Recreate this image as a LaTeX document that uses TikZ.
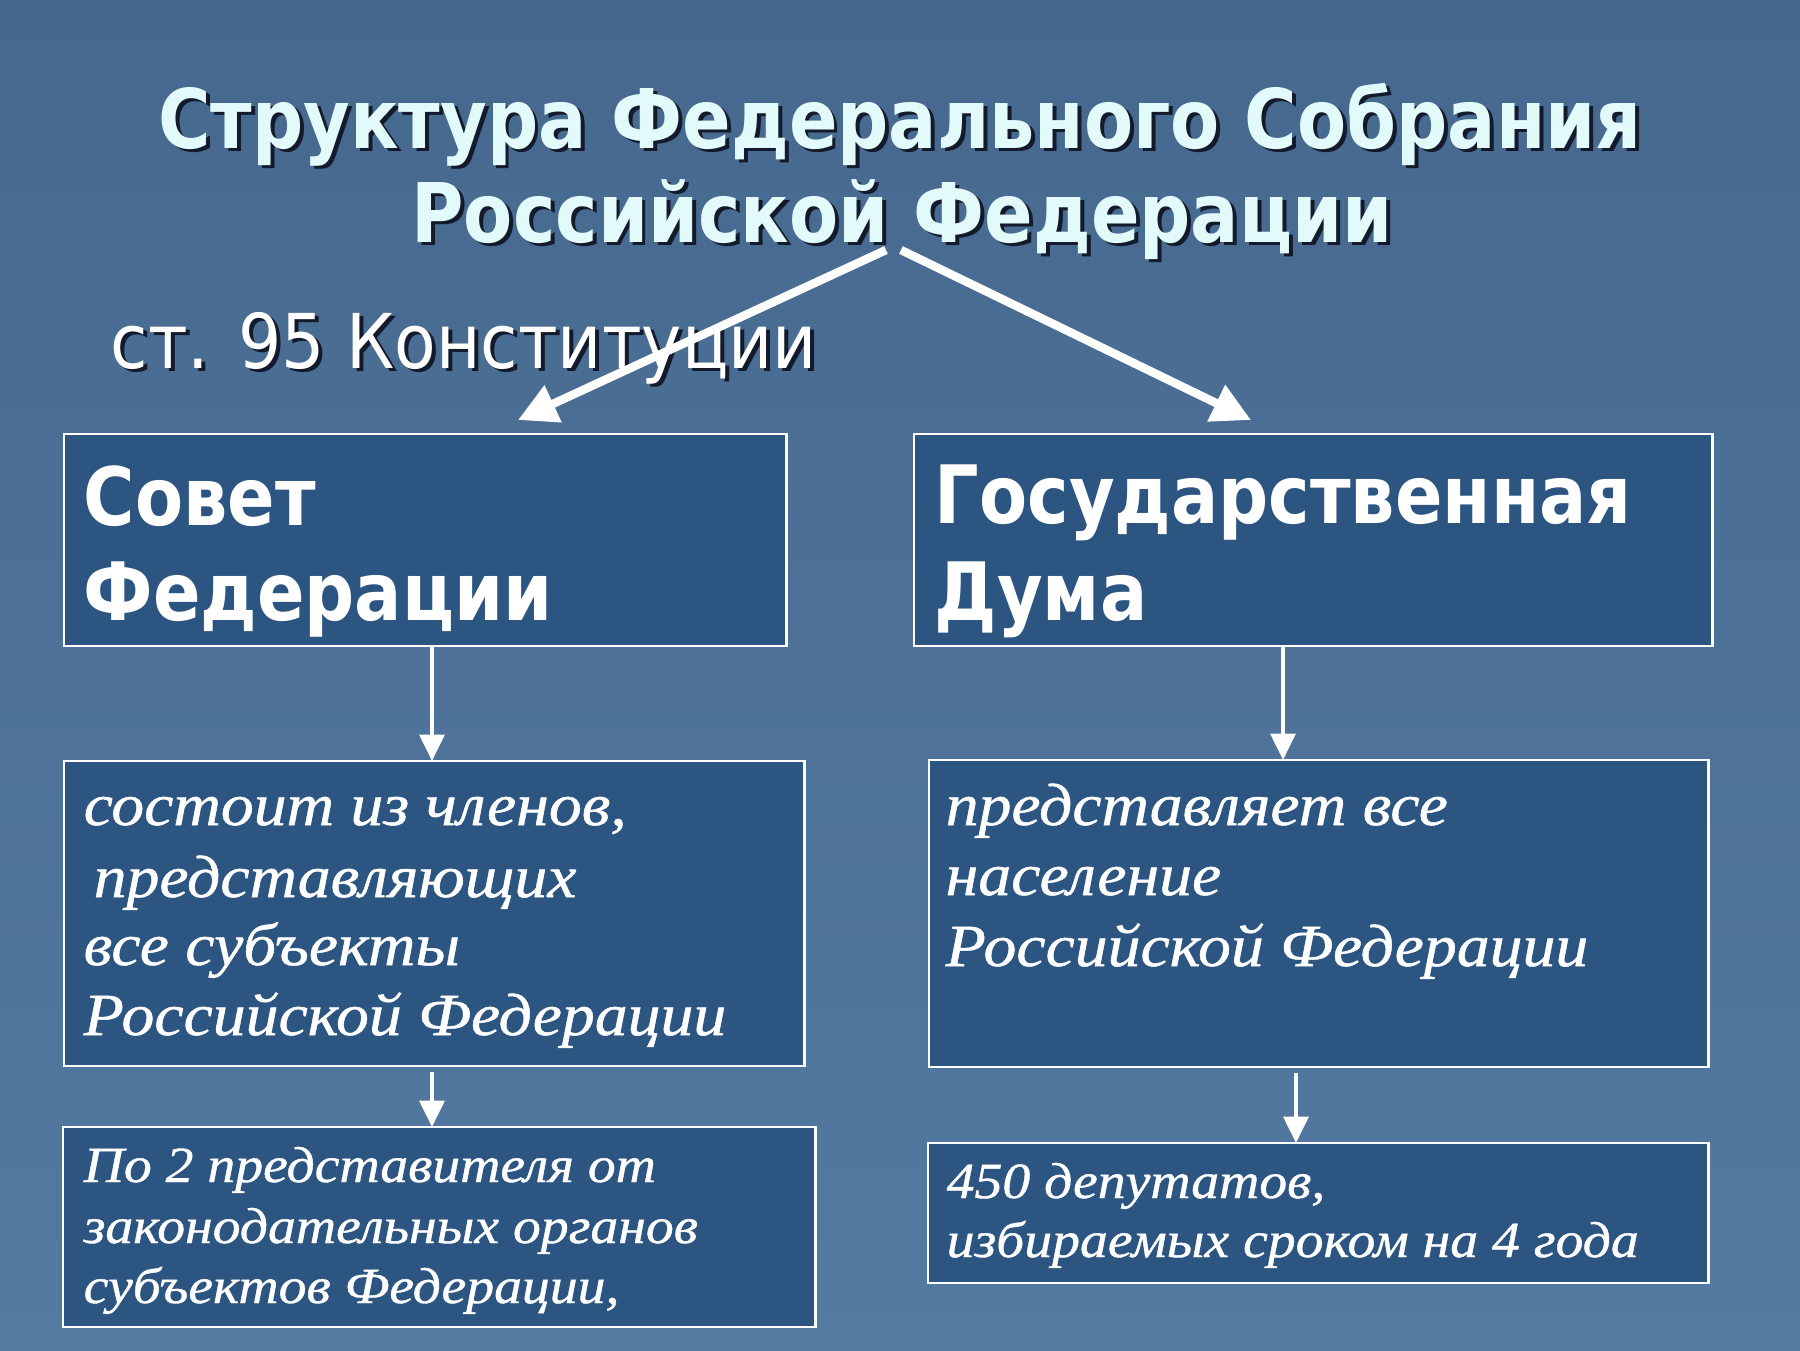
\documentclass[tikz,border=0pt]{standalone}
\usepackage{fontspec}
\usetikzlibrary{arrows.meta}
\setmainfont{Liberation Serif}
\newfontfamily\ttlfont[FakeStretch=0.87]{DejaVu Sans}
\newfontfamily\notefont[FakeStretch=0.9]{DejaVu Sans}
\newfontfamily\bodyit[FakeStretch=1.1,FakeBold=0.8]{Liberation Serif Italic}
\definecolor{bgA}{RGB}{70,104,142}
\definecolor{bgB}{RGB}{84,122,162}
\definecolor{boxfill}{RGB}{44,86,129}
\definecolor{ttlcol}{RGB}{226,250,250}
\definecolor{shd}{RGB}{18,26,44}
\newcommand\shadowed[1]{\makebox[0pt][l]{\hspace{1.1pt}\raisebox{-1.1pt}{\textcolor{shd}{#1}}}#1}
\begin{document}
\begin{tikzpicture}[x=0.01cm,y=-0.01cm,
  box/.style={draw=white, line width=0.7pt, fill=boxfill, inner sep=0pt, outer sep=0pt, anchor=north west},
  ttl/.style={anchor=base, inner sep=0pt, text=ttlcol, font=\ttlfont\bfseries\fontsize{23.4pt}{28pt}\selectfont},
  note/.style={anchor=base west, inner sep=0pt, text=white, font=\notefont\fontsize{21.5pt}{25pt}\selectfont},
  head/.style={anchor=base west, inner sep=0pt, text=white, font=\ttlfont\bfseries\fontsize{22.9pt}{27pt}\selectfont},
  itA/.style={anchor=base west, inner sep=0pt, text=white, font=\bodyit\fontsize{17pt}{20pt}\selectfont},
  itB/.style={anchor=base west, inner sep=0pt, text=white, font=\bodyit\fontsize{14.4pt}{17pt}\selectfont},
  bigarrow/.style={draw=white, line width=2.4pt, -{Triangle[length=11pt,width=11pt]}},
  smallarrow/.style={draw=white, line width=1.2pt, -{Triangle[length=7.5pt,width=7pt]}}]
\useasboundingbox (0,0) rectangle (1800,1350);
\shade[top color=bgA, bottom color=bgB] (0,0) rectangle (1800,1350);

% title
\node[ttl] (t1) at (900,148) {\shadowed{Структура Федерального Собрания}};
\node[ttl] (t2) at (902,242) {\shadowed{Российской Федерации}};
\node[note] (art) at (110,368) {\shadowed{ст. 95 Конституции}};

% boxes
\node[box, minimum width=7.22cm, minimum height=2.12cm] (sf) at (64,434) {};
\node[box, minimum width=7.98cm, minimum height=2.12cm] (gd) at (914,434) {};
\node[box, minimum width=7.40cm, minimum height=3.05cm] (sf2) at (64,761) {};
\node[box, minimum width=7.79cm, minimum height=3.07cm] (gd2) at (929,760) {};
\node[box, minimum width=7.52cm, minimum height=2.00cm] (sf3) at (63,1127) {};
\node[box, minimum width=7.80cm, minimum height=1.40cm] (gd3) at (928,1143) {};

% box texts
\node[head] (sfa) at (83,525) {Совет};
\node[head] (sfb) at (83,620) {Федерации};
\node[head] (gda) at (934,523) {Государственная};
\node[head] (gdb) at (934,620) {Дума};

\node[itA] (s1) at (83,825) {состоит из членов,};
\node[itA] (s2) at (93,897) {представляющих};
\node[itA] (s3) at (83,965) {все субъекты};
\node[itA] (s4) at (83,1035) {Российской Федерации};

\node[itA] (g1) at (945,825) {представляет все};
\node[itA] (g2) at (945,895) {население};
\node[itA] (g3) at (945,966) {Российской Федерации};

\node[itB] (p1) at (83,1182) {По 2 представителя от};
\node[itB] (p2) at (83,1243) {законодательных органов};
\node[itB] (p3) at (83,1303) {субъектов Федерации,};

\node[itB] (q1) at (946,1198) {450 депутатов,};
\node[itB] (q2) at (946,1257) {избираемых сроком на 4 года};

% connectors
\coordinate (fl) at (886,250);
\coordinate (fr) at (901,250);
\coordinate (tl) at (518,420);
\coordinate (tr) at (1251,420);
\draw[bigarrow] (fl) -- (tl);
\draw[bigarrow] (fr) -- (tr);

\coordinate (xl) at (432,0);
\coordinate (xr) at (1283,0);
\coordinate (xr2) at (1296,0);
\draw[smallarrow] (sf.south -| xl) -- (sf2.north -| xl);
\draw[smallarrow] (gd.south -| xr) -- (gd2.north -| xr);
\draw[smallarrow] ([yshift=-0.06cm]sf2.south -| xl) -- (sf3.north -| xl);
\draw[smallarrow] ([yshift=-0.06cm]gd2.south -| xr2) -- (gd3.north -| xr2);
\end{tikzpicture}
\end{document}
